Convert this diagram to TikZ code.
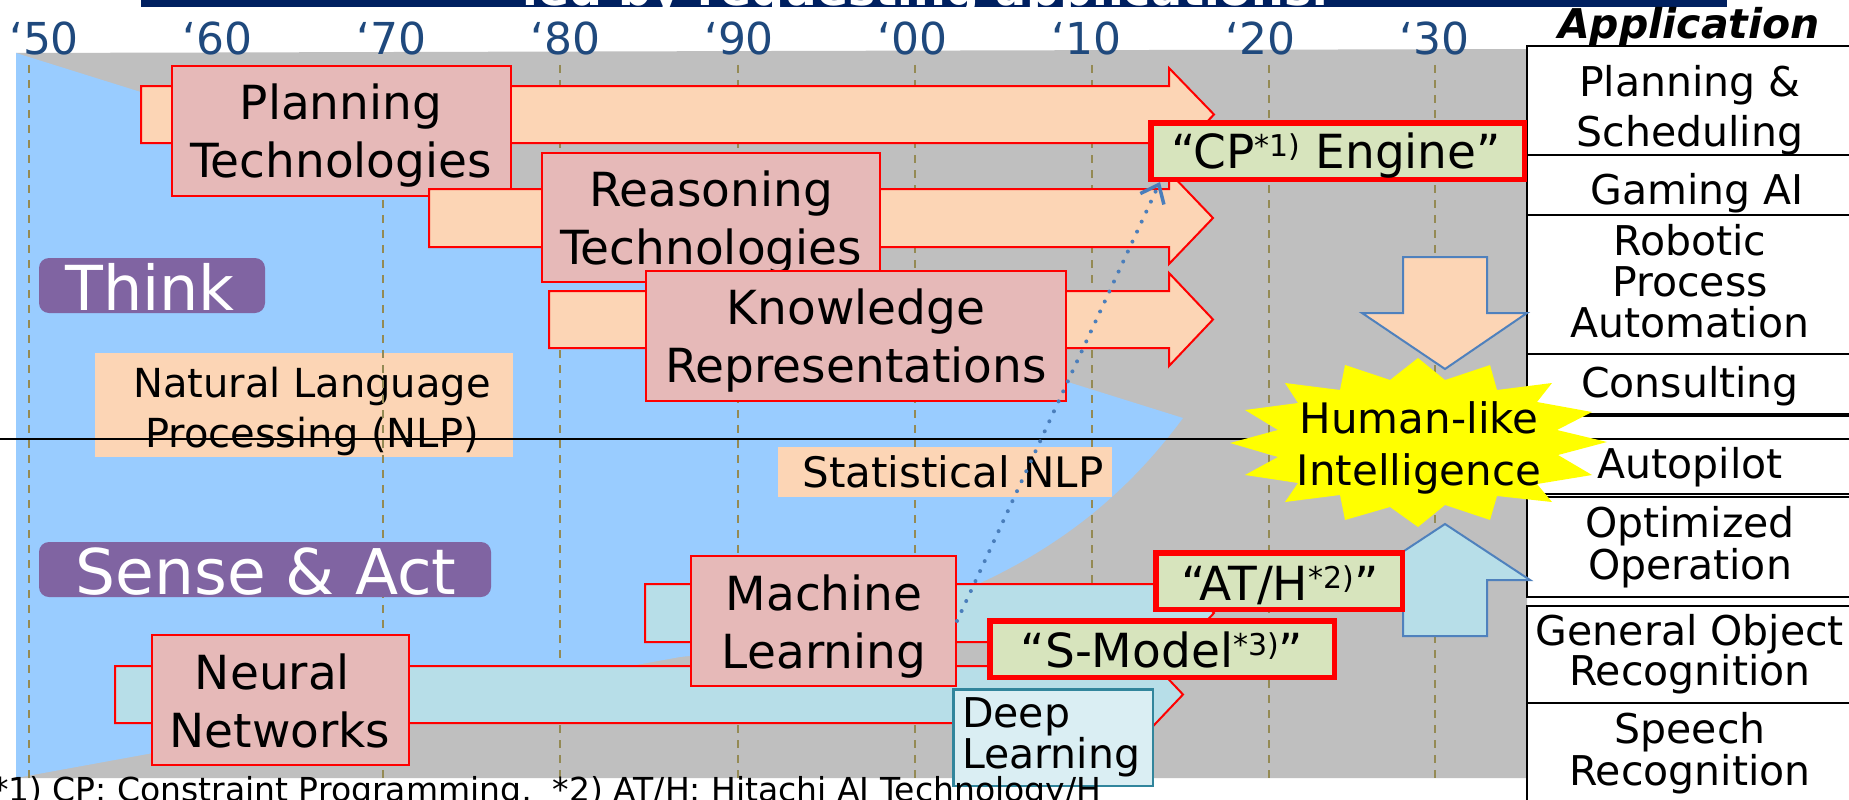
\documentclass[tikz,border=0pt]{standalone}
\usepackage{fontspec}
\setmainfont{DejaVu Sans}
\usetikzlibrary{arrows.meta}

\definecolor{panelgray}{HTML}{BFBFBF}
\definecolor{thinkblue}{HTML}{99CCFF}
\definecolor{peach}{HTML}{FCD5B5}
\definecolor{rosefill}{HTML}{E6B9B8}
\definecolor{iceblue}{HTML}{B7DEE8}
\definecolor{sage}{HTML}{D7E4BD}
\definecolor{deepfill}{HTML}{DAEEF3}
\definecolor{deepline}{HTML}{31859C}
\definecolor{tagpurple}{HTML}{8064A2}
\definecolor{yearblue}{HTML}{1F497D}
\definecolor{gridolive}{HTML}{948A54}
\definecolor{outlineblue}{HTML}{4F81BD}
\definecolor{dotblue}{HTML}{4A7EBB}
\definecolor{navy}{HTML}{002060}
\definecolor{burst}{HTML}{FFFF00}

\newcommand\fsz[2]{\fontsize{#1}{#2}\selectfont}
\newcommand\supnote[1]{\raisebox{12pt}{\fsz{30}{30}#1}}

\begin{document}
\begin{tikzpicture}[x=1pt,y=-1pt,
  % multi-line labels are placed by the baseline of their last line
  txt/.style={inner sep=0pt, outer sep=0pt, anchor=base, align=center},
  boxtext/.style={txt, font=\fsz{47}{58}},
  apptext/.style={txt, font=\fsz{41}{41}},
  greentext/.style={txt, font=\fsz{47}{47}},
  yearlabel/.style={txt, text=yearblue, font=\fsz{44}{44}},
  gridline/.style={draw=gridolive, line width=2pt, dash pattern=on 8pt off 7pt},
  techbox/.style={draw=red, line width=2pt, fill=rosefill, inner sep=0pt},
  resultbox/.style={draw=red, line width=5.5pt, fill=sage, inner sep=0pt},
  peacharrow/.style={draw=red, line width=2pt, fill=peach},
  icearrow/.style={draw=red, line width=2pt, fill=iceblue},
  fatarrow/.style={draw=outlineblue, line width=2pt},
  tag/.style={fill=tagpurple, rounded corners=10pt, inner sep=0pt},
  cell/.style={draw=black, line width=2.5pt, fill=white},
  plainlabel/.style={fill=peach, inner sep=0pt}
]
\useasboundingbox (0,0) rectangle (1849,800);
\fill[white] (0,0) rectangle (1849,800);
\begin{scope}
\clip (0,0) rectangle (1849,800);

% title strip
\fill[navy] (141,0) rectangle (1727,7.5);
\begin{scope}
  \clip (141,0) rectangle (1727,7.5);
  \node[txt, text=white, font=\fsz{46}{46}\bfseries] (title) at (926,5.3) {led by requesting applications.};
\end{scope}

% timeline panel and the "think" area
\fill[panelgray] (16,53) -- (1527,49) -- (1527,778) -- (16,778) -- cycle;
\fill[thinkblue] (16,53) -- (1183,418) .. controls (1100,530) and (970,628) .. (680,657) -- (16,778) -- cycle;

% NLP label (under the grid)
\node[plainlabel, minimum width=418pt, minimum height=104pt] (nlpbox) at (304,405) {};
\node[txt, font=\fsz{40}{50}] (nlp) at (312,447) {Natural Language\\Processing (NLP)};

% decade grid
\foreach \gx in {29,383,560,738,915,1092,1269,1435}
  \draw[gridline] (\gx,65) -- (\gx,778);

\node[plainlabel, minimum width=334pt, minimum height=50pt] (statbox) at (945,472) {};
\node[txt, font=\fsz{42}{42}] (stat) at (953,487) {Statistical NLP};

% think / sense divider
\draw[line width=2pt] (0,439) -- (1849,439);

% category tags
\node[tag, minimum width=226pt, minimum height=55pt] (thinkbox) at (152,285.5) {};
\node[txt, text=white, font=\fsz{62}{62}] (think) at (150,310) {Think};
\node[tag, minimum width=452pt, minimum height=55pt] (sensebox) at (265,569.5) {};
\node[txt, text=white, font=\fsz{63}{63}] (sense) at (266,594) {Sense \& Act};

% decade labels
\foreach \lab [count=\i from 0] in {50,60,70,80,90,00,10,20,30}
  \node[yearlabel] (yr\i) at ({44+173.75*\i},55) {‘\lab};

% application column
\node[txt, font=\fsz{41}{41}\bfseries\itshape] (apphead) at (1689,39) {Application};
\foreach \ya/\yb in {46/155,155/215,215/354,354/414,416/439,439/494,497/597,606/703,703/830}
  \draw[cell] (1527,\ya) rectangle (1900,\yb);
\node[apptext, font=\fsz{41}{50}] (app1) at (1690,146) {Planning \&\\Scheduling};
\node[apptext] (app2) at (1697,204) {Gaming AI};
\node[apptext] (app3) at (1690,337) {Robotic\\Process\\Automation};
\node[apptext] (app4) at (1690,397) {Consulting};
\node[apptext] (app5) at (1690,478) {Autopilot};
\node[apptext, font=\fsz{41}{42}] (app6) at (1690,579) {Optimized\\Operation};
\node[apptext, font=\fsz{41}{40}] (app7) at (1690,685) {General Object\\Recognition};
\node[apptext, font=\fsz{41}{42}] (app8) at (1690,785) {Speech\\Recognition};

% think technologies
\draw[peacharrow] (141,86) -- (1169,86) -- (1169,68) -- (1214,114.5) -- (1169,161) -- (1169,143) -- (141,143) -- cycle;
\node[techbox, minimum width=339pt, minimum height=130pt] (plan) at (341.5,131) {};
\node[boxtext] (planT) at (341,177) {Planning\\Technologies};

\draw[peacharrow] (429,189) -- (1169,189) -- (1169,172) -- (1213,218) -- (1169,264) -- (1169,247) -- (429,247) -- cycle;
\node[techbox, minimum width=338pt, minimum height=129pt] (reas) at (711,217.5) {};
\node[boxtext] (reasT) at (711,264) {Reasoning\\Technologies};

\draw[peacharrow] (549,291) -- (1169,291) -- (1169,273) -- (1213,319.5) -- (1169,366) -- (1169,348) -- (549,348) -- cycle;
\node[techbox, minimum width=420pt, minimum height=130pt] (know) at (856,336) {};
\node[boxtext] (knowT) at (856,382) {Knowledge\\Representations};

% sense & act technologies
\draw[icearrow] (115,666) -- (1139,666) -- (1139,648) -- (1183,694.5) -- (1139,741) -- (1139,723) -- (115,723) -- cycle;
\node[techbox, minimum width=257pt, minimum height=130pt] (nn) at (280.5,700) {};
\node[boxtext] (nnT) at (280,747) {Neural\rule{15pt}{0pt}\\Networks};

\draw[icearrow] (645,584) -- (1170,584) -- (1170,566) -- (1214,613) -- (1170,660) -- (1170,642) -- (645,642) -- cycle;
\node[techbox, minimum width=265pt, minimum height=130pt] (ml) at (823.5,621) {};
\node[boxtext] (mlT) at (824,668) {Machine\\Learning};

% convergence arrows
\draw[fatarrow, fill=peach] (1403,257) -- (1487,257) -- (1487,313) -- (1527,313) -- (1445,369) -- (1362,313) -- (1403,313) -- cycle;
\draw[fatarrow, fill=iceblue] (1403,636) -- (1487,636) -- (1487,580) -- (1530,580) -- (1445,524) -- (1360,580) -- (1403,580) -- cycle;

% products
\node[draw=deepline, line width=2.5pt, fill=deepfill, inner sep=0pt, minimum width=199.5pt, minimum height=96.5pt] (deepbox) at (1053,737.5) {};
\node[txt, anchor=base west, align=left, font=\fsz{41}{41}] (deep) at (962,768) {Deep\\Learning};

\node[resultbox, minimum width=344.5pt, minimum height=56.5pt] (smodel) at (1162,649) {};
\node[greentext] (smodelT) at (1162,667) {“S-Model\supnote{*3)}”};
\node[resultbox, minimum width=246.5pt, minimum height=56.5pt] (ath) at (1279,581) {};
\node[greentext] (athT) at (1280,600) {“AT/H\supnote{*2)}”};
\node[resultbox, minimum width=373.5pt, minimum height=56.5pt] (cp) at (1337.5,151) {};
\node[greentext] (cpT) at (1336,168) {“CP\supnote{*1)} Engine”};

% goal
\fill[burst] (1230,443) -- (1278,430) -- (1245,410) -- (1298,403) -- (1285,383) -- (1340,390)
  -- (1345,365) -- (1390,380) -- (1418,358) -- (1445,380) -- (1490,365) -- (1497,390)
  -- (1552,383) -- (1537,402) -- (1592,412) -- (1557,430) -- (1607,442) -- (1558,455)
  -- (1592,475) -- (1537,484) -- (1552,502) -- (1497,496) -- (1490,520) -- (1445,505)
  -- (1418,527) -- (1390,507) -- (1345,520) -- (1340,495) -- (1285,502) -- (1298,483)
  -- (1245,475) -- (1278,457) -- cycle;
\node[txt, font=\fsz{42}{52}] (human) at (1419,485) {Human-like\\Intelligence};

% machine learning feeds the CP engine
\draw[dotblue, line width=4pt, line cap=round, dash pattern=on 0pt off 11pt,
  -{Straight Barb[length=16pt,width=26pt,line width=3.5pt]}]
  (ml.east) -- ([xshift=12pt]cp.south west);

% footnote
\node[txt, anchor=base west, font=\fsz{33}{33}] (foot) at (-8,801)
  {*1) CP: Constraint Programming,\ \ *2) AT/H: Hitachi AI Technology/H};
\end{scope}
\end{tikzpicture}
\end{document}
